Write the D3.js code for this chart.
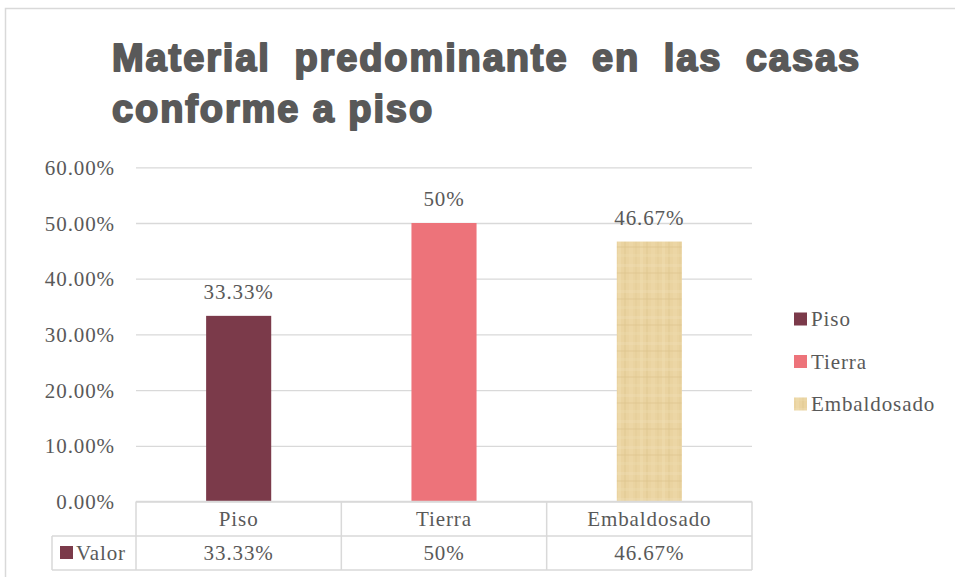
<!DOCTYPE html>
<html>
<head>
<meta charset="utf-8">
<script src="https://cdn.jsdelivr.net/npm/d3@7"></script>
<style>
  body { margin: 0; background: #fff; }
  svg { display: block; }
</style>
</head>
<body>
<svg id="chart" width="955" height="577"></svg>
<script>
const categories = ["Piso", "Tierra", "Embaldosado"];
const values = [0.3333, 0.50, 0.4667];
const valueLabels = ["33.33%", "50%", "46.67%"];
const yTicks = [0, 0.1, 0.2, 0.3, 0.4, 0.5, 0.6];
const seriesName = "Valor";
const titleLines = ["Material predominante en las casas", "conforme a piso"];

const colors = ["#7b3a4a", "#ed737a", "url(#papyrus)"];
const textColor = "#595959";
const lineColor = "#d9d9d9";
const serif = "'Liberation Serif', 'DejaVu Serif', serif";

const svg = d3.select("#chart");
const W = 955, H = 577;

// papyrus-like texture for the third bar
const defs = svg.append("defs");
const pat = defs.append("pattern")
  .attr("id", "papyrus")
  .attr("patternUnits", "userSpaceOnUse")
  .attr("width", 22)
  .attr("height", 26);
pat.append("rect").attr("width", 22).attr("height", 26).attr("fill", "#ead3a0");
[[2, 3, "#f3e2b8"], [8, 2, "#ddc48c"], [13, 4, "#f0dcae"], [19, 2, "#e2ca94"]].forEach(([x, w, c]) => {
  pat.append("rect").attr("x", x).attr("y", 0).attr("width", w).attr("height", 26)
    .attr("fill", c).attr("opacity", 0.35);
});
[[4, 3, "#f4e4bc"], [12, 2, "#dcc28a"], [20, 3, "#f1deb2"]].forEach(([y, h, c]) => {
  pat.append("rect").attr("x", 0).attr("y", y).attr("width", 22).attr("height", h)
    .attr("fill", c).attr("opacity", 0.3);
});

// outer frame (only top & left visible)
svg.append("path")
  .attr("d", `M5.5,${H} V8.5 H${W}`)
  .attr("fill", "none")
  .attr("stroke", lineColor)
  .attr("stroke-width", 1.5);

// title, first line justified
const titleLeft = 112, titleRight = 861;
const title = svg.append("g")
  .attr("fill", textColor)
  .attr("stroke", textColor)
  .attr("stroke-width", 1.9)
  .attr("stroke-linejoin", "round")
  .style("font-family", "'Liberation Sans', Arial, sans-serif")
  .style("font-weight", "bold")
  .style("font-size", "38px")
  .style("letter-spacing", "1.9px");

const words = titleLines[0].split(" ");
const wordNodes = words.map(w => title.append("text").attr("y", 71).text(w));
const widths = wordNodes.map(t => t.node().getComputedTextLength());
const gap = (titleRight - titleLeft - d3.sum(widths)) / (words.length - 1);
let cx = titleLeft;
wordNodes.forEach((t, i) => {
  t.attr("x", cx);
  cx += widths[i] + gap;
});
title.append("text").attr("x", titleLeft).attr("y", 122).text(titleLines[1]);

// scales
const x = d3.scaleBand().domain(categories).range([136, 752]).padding(0);
const y = d3.scaleLinear().domain([0, 0.6]).range([501.5, 167.3]);
const barW = x.bandwidth() * 0.317;

// gridlines + y axis labels
const yAxis = svg.append("g")
  .attr("transform", "translate(136,0)")
  .call(d3.axisLeft(y).tickValues(yTicks).tickFormat(d3.format(".2%")).tickSize(-616).tickPadding(21));
yAxis.select(".domain").remove();
yAxis.selectAll(".tick line").attr("stroke", lineColor).attr("stroke-width", 1.3);
yAxis.selectAll(".tick text")
  .attr("fill", textColor)
  .attr("dy", "0.34em")
  .style("font-family", serif)
  .style("font-size", "21px")
  .style("letter-spacing", "0.9px");

// bars
svg.append("g").selectAll("rect")
  .data(categories)
  .join("rect")
  .attr("x", d => x(d) + (x.bandwidth() - barW) / 2)
  .attr("y", (d, i) => y(values[i]))
  .attr("width", barW)
  .attr("height", (d, i) => y(0) - y(values[i]))
  .attr("fill", (d, i) => colors[i]);

// data labels
svg.append("g").selectAll("text")
  .data(categories)
  .join("text")
  .attr("x", d => x(d) + x.bandwidth() / 2)
  .attr("y", (d, i) => y(values[i]) - 17)
  .attr("text-anchor", "middle")
  .attr("fill", textColor)
  .style("font-family", serif)
  .style("font-size", "21px")
  .style("letter-spacing", "0.9px")
  .text((d, i) => valueLabels[i]);

// data table
const rowTop = 501.5, rowMid = 536, rowBot = 570, keyLeft = 52;
const table = svg.append("g")
  .attr("fill", "none")
  .attr("stroke", lineColor)
  .attr("stroke-width", 1.5);
table.append("path").attr("d", `M136,${rowTop} H752 M${keyLeft},${rowMid} H752 M${keyLeft},${rowBot} H752 M${keyLeft},${rowMid} V${rowBot}`);
table.selectAll(".vline")
  .data([136, ...categories.map(c => x(c) + x.bandwidth())])
  .join("line")
  .attr("x1", d => d).attr("x2", d => d)
  .attr("y1", rowTop).attr("y2", rowBot);

const cells = svg.append("g")
  .attr("fill", textColor)
  .attr("text-anchor", "middle")
  .style("font-family", serif)
  .style("font-size", "21px")
  .style("letter-spacing", "0.9px");
cells.selectAll(".cat")
  .data(categories)
  .join("text")
  .attr("x", d => x(d) + x.bandwidth() / 2)
  .attr("y", 526)
  .text(d => d);
cells.selectAll(".val")
  .data(categories)
  .join("text")
  .attr("x", d => x(d) + x.bandwidth() / 2)
  .attr("y", 560)
  .text((d, i) => valueLabels[i]);

svg.append("rect")
  .attr("x", 60).attr("y", 546).attr("width", 13).attr("height", 13)
  .attr("fill", colors[0]);
svg.append("text")
  .attr("x", 76).attr("y", 560)
  .attr("fill", textColor)
  .style("font-family", serif)
  .style("font-size", "21px")
  .style("letter-spacing", "0.9px")
  .text(seriesName);

// legend
const legend = svg.append("g").selectAll("g")
  .data(categories)
  .join("g")
  .attr("transform", (d, i) => `translate(794,${319 + i * 42.5})`);
legend.append("rect")
  .attr("y", -6.5).attr("width", 13).attr("height", 13)
  .attr("fill", (d, i) => colors[i]);
legend.append("text")
  .attr("x", 17).attr("y", 7)
  .attr("fill", textColor)
  .style("font-family", serif)
  .style("font-size", "21px")
  .style("letter-spacing", "0.9px")
  .text(d => d);
</script>
</body>
</html>
